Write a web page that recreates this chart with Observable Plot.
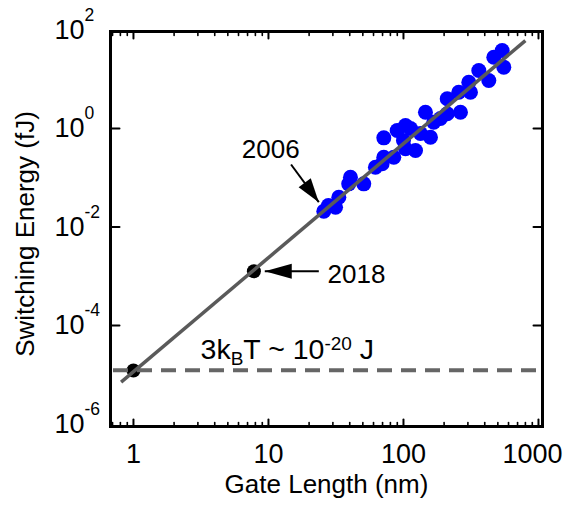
<!DOCTYPE html>
<html><head><meta charset="utf-8">
<script src="https://cdn.jsdelivr.net/npm/d3@7"></script>
<script src="https://cdn.jsdelivr.net/npm/@observablehq/plot@0.6"></script>
<style>
html,body{margin:0;padding:0;background:#fff;}
#chart svg{display:block;}
</style>
</head><body><div id="chart"></div>
<script>
// Measured devices (blue)
const gateLength = [25.7, 27.8, 31.4, 33.2, 39.3, 40.5, 50.8, 62.0, 69.5, 71.5, 84.8, 71.5, 89.8, 100, 103.5, 103.5, 112.8, 122.8, 133.6, 145.5, 158.5, 167.5, 187.9, 210.9, 210.9, 256.8, 264.3, 304.8, 313.5, 361.4, 428.5, 466.7, 538.3, 553.4];
const switchingEnergy = [0.0209, 0.0273, 0.0252, 0.0403, 0.0753, 0.1026, 0.0753, 0.164, 0.192, 0.261, 0.261, 0.647, 0.910, 0.570, 1.15, 0.387, 1.0, 0.357, 0.791, 2.14, 0.666, 1.34, 1.60, 4.01, 1.99, 5.46, 2.14, 8.71, 5.46, 15.1, 9.44, 28.0, 38.3, 17.6];
// Projected points (black)
const projLength = [1, 7.8];
const projEnergy = [1.22e-5, 1.26e-3];
// Fit line end points
const fitLength = [0.81, 800];
const fitEnergy = [7.06e-6, 61];
// Thermal limit 3kBT ~ 1e-20 J = 1e-5 fJ
const thermalEnergy = 1.24e-5;
// Ticks
const xTicks = [1, 10, 100, 1000];
const xTickLabels = ["1", "10", "100", "1000"];
const xMinor = [0.7, 0.8, 0.9, 2, 3, 4, 5, 6, 7, 8, 9, 20, 30, 40, 50, 60, 70, 80, 90, 200, 300, 400, 500, 600, 700, 800, 900];
const yTicks = [1e-6, 1e-4, 1e-2, 1, 1e2];
const yTickLabels = ["10^{-6}", "10^{-4}", "10^{-2}", "10^{0}", "10^{2}"];
const yInnerTicks = [1e-4, 1e-2, 1];
// Annotations
const annLabels = ["2006", "2018", "3k_{B}T ~ 10^{-20} J"];
const annX = [10.4, 27.4, 3.14];
const annY = [0.375, 1.09e-3, 3.2e-5];
const arrowStartX = [14.7, 23.6];
const arrowStartY = [0.186, 1.26e-3];
const arrowTipX = [23.6, 9.39];
const arrowTipY = [0.0319, 1.26e-3];
const arrowAngle = [144, 270];

const points = gateLength.map((x, i) => ({x, y: switchingEnergy[i]}));
const proj = projLength.map((x, i) => ({x, y: projEnergy[i]}));
const fit = fitLength.map((x, i) => ({x, y: fitEnergy[i]}));
const xTickRows = xTicks.map((v, i) => ({v, label: xTickLabels[i]}));
const yTickRows = yTicks.map((v, i) => ({v, label: yTickLabels[i]}));
const arrows = arrowStartX.map((x, i) => ({x1: x, y1: arrowStartY[i], x2: arrowTipX[i], y2: arrowTipY[i], a: arrowAngle[i]}));
const ann = annLabels.map((t, i) => ({t, x: annX[i], y: annY[i]}));

const lineShape = {draw(ctx, l) { ctx.moveTo(0, 0); ctx.lineTo(0, -l); }};
const headShape = {draw(ctx, l) { ctx.moveTo(-7.5, 0); ctx.lineTo(0, -l); ctx.lineTo(7.5, 0); ctx.closePath(); }};

const font = "'Liberation Sans', Arial, Helvetica, sans-serif";

const chart = Plot.plot({
  width: 567,
  height: 511,
  marginLeft: 110,
  marginRight: 25,
  marginTop: 31,
  marginBottom: 85,
  style: {fontFamily: font, background: "#fff", color: "black"},
  x: {type: "log", domain: [0.676, 1071], axis: null},
  y: {type: "log", domain: [Math.pow(10, -6.051), Math.pow(10, 1.97)], axis: null},
  marks: [
    Plot.dot(points, {x: "x", y: "y", r: 7.5, fill: "#0000ff", stroke: "none"}),
    Plot.dot(proj, {x: "x", y: "y", r: 7, fill: "black", stroke: "none"}),
    Plot.ruleY([thermalEnergy], {stroke: "#666666", strokeWidth: 4, strokeDasharray: "15,9", insetLeft: 3, insetRight: 5}),
    Plot.line(fit, {x: "x", y: "y", stroke: "#5a5a5a", strokeWidth: 3.5, strokeLinecap: "butt"}),
    // arrows
    Plot.link(arrows, {x1: "x1", y1: "y1", x2: "x2", y2: "y2", stroke: "black", strokeWidth: 2}),
    Plot.vector(arrows.slice(0, 1), {x: "x2", y: "y2", rotate: "a", length: 24, anchor: "end", shape: headShape, fill: "black", stroke: "none"}),
    Plot.vector(arrows.slice(1), {x: "x2", y: "y2", rotate: "a", length: 27, anchor: "end", shape: headShape, fill: "black", stroke: "none"}),
    // annotations
    Plot.text(ann.slice(0, 1), {x: "x", y: "y", text: "t", fontSize: 26, textAnchor: "middle", lineAnchor: "middle", fill: "black"}),
    Plot.text(ann.slice(1, 2), {x: "x", y: "y", text: "t", fontSize: 26, textAnchor: "start", lineAnchor: "middle", fill: "black"}),
    Plot.text(ann.slice(2), {x: "x", y: "y", text: "t", fontSize: 28.5, textAnchor: "start", lineAnchor: "middle", fill: "black", ariaDescription: "rich-ann"}),
    // ticks
    Plot.vector(xTicks, {x: d => d, frameAnchor: "bottom", rotate: 0, length: 7, anchor: "start", shape: lineShape, stroke: "black", strokeWidth: 2}),
    Plot.vector(xMinor, {x: d => d, frameAnchor: "bottom", rotate: 0, length: 4, anchor: "start", shape: lineShape, stroke: "black", strokeWidth: 1.6}),
    Plot.vector(xTicks, {x: d => d, frameAnchor: "top", rotate: 180, length: 7, anchor: "start", shape: lineShape, stroke: "black", strokeWidth: 2}),
    Plot.vector(xMinor, {x: d => d, frameAnchor: "top", rotate: 180, length: 4, anchor: "start", shape: lineShape, stroke: "black", strokeWidth: 1.6}),
    Plot.vector(yInnerTicks, {y: d => d, frameAnchor: "left", rotate: 90, length: 9, anchor: "start", shape: lineShape, stroke: "black", strokeWidth: 2}),
    Plot.vector(yInnerTicks, {y: d => d, frameAnchor: "right", rotate: 270, length: 9, anchor: "start", shape: lineShape, stroke: "black", strokeWidth: 2}),
    Plot.frame({stroke: "black", strokeWidth: 3}),
    // tick labels
    Plot.text(xTickRows.slice(0, 3), {x: "v", text: "label", frameAnchor: "bottom", dy: 27.5, lineAnchor: "middle", fontSize: 27, fill: "black"}),
    Plot.text(xTickRows.slice(3), {x: "v", text: "label", frameAnchor: "bottom", dx: -6, dy: 27.5, lineAnchor: "middle", fontSize: 27, fill: "black"}),
    Plot.text(yTickRows, {y: "v", text: "label", frameAnchor: "left", dx: -56, textAnchor: "start", lineAnchor: "middle", fontSize: 27, fill: "black", ariaDescription: "rich-ytick"}),
    // axis titles
    Plot.text(["Gate Length (nm)"], {text: d => d, frameAnchor: "bottom", textAnchor: "middle", dx: 0, dy: 58, lineAnchor: "middle", fontSize: 26, fill: "black"}),
    Plot.text(["Switching Energy (fJ)"], {text: d => d, frameAnchor: "left", textAnchor: "middle", rotate: -90, dx: -85, dy: 5, lineAnchor: "middle", fontSize: 26, fill: "black"})
  ]
});

function applyRichText(svg, specs) {
  svg.querySelectorAll("g[aria-description]").forEach(g => {
    const spec = specs[g.getAttribute("aria-description")];
    if (!spec) return;
    g.querySelectorAll("text").forEach(t => {
      const s = t.textContent;
      const parts = [];
      const re = /([\^_])\{([^}]*)\}/g;
      let last = 0, m;
      while ((m = re.exec(s))) {
        if (m.index > last) parts.push({t: s.slice(last, m.index), k: "n"});
        parts.push({t: m[2], k: m[1] === "^" ? "sup" : "sub"});
        last = re.lastIndex;
      }
      if (last < s.length) parts.push({t: s.slice(last), k: "n"});
      t.textContent = "";
      t.style.whiteSpace = "pre";
      let shift = 0;
      for (const p of parts) {
        const ts = document.createElementNS("http://www.w3.org/2000/svg", "tspan");
        const target = p.k === "sup" ? -spec.rise : p.k === "sub" ? spec.drop : 0;
        const dy = target - shift;
        if (dy) ts.setAttribute("dy", dy);
        shift = target;
        if (p.k !== "n") ts.setAttribute("font-size", spec.size);
        ts.textContent = p.t;
        t.appendChild(ts);
      }
    });
  });
}
applyRichText(chart, {
  "rich-ytick": {size: 17.5, rise: 18, drop: 6},
  "rich-ann": {size: 19, rise: 9, drop: 6}
});

document.getElementById("chart").appendChild(chart);
</script>
</body></html>
